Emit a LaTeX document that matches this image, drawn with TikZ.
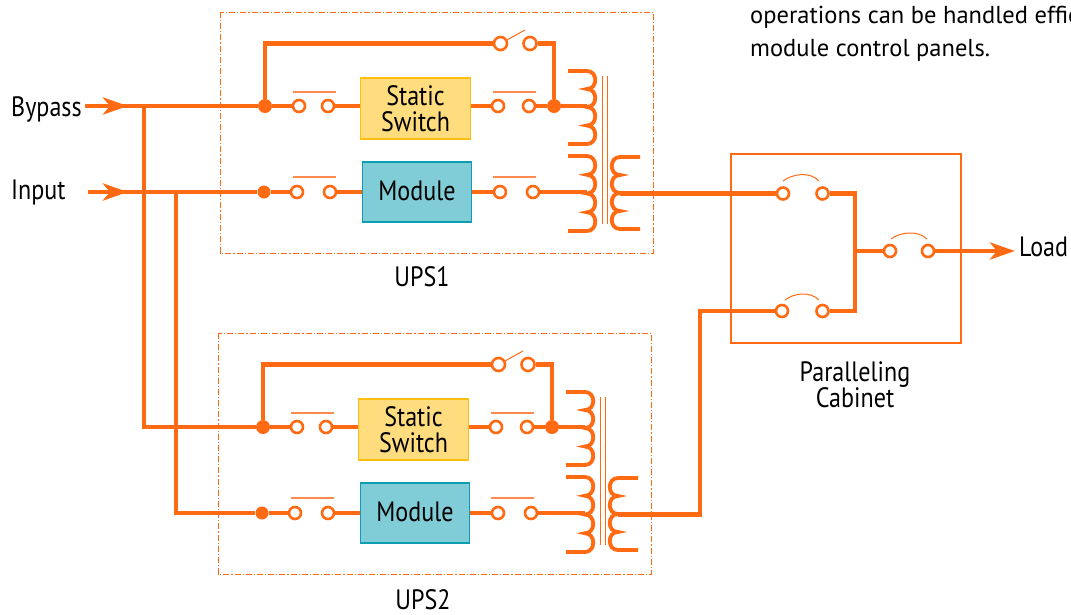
\documentclass[tikz,border=0pt]{standalone}
\usepackage{fontspec}
\setmainfont{PT Sans}
\newfontfamily\condfont[FakeStretch=0.86]{PT Sans}
\usetikzlibrary{arrows.meta}
\definecolor{wire}{HTML}{FF6A13}
\definecolor{thinwire}{HTML}{FF8A4D}
\definecolor{ssfill}{HTML}{FFDD7F}
\definecolor{ssline}{HTML}{FFBF10}
\definecolor{mfill}{HTML}{80CDD8}
\definecolor{mline}{HTML}{0E9DB0}
\tikzset{
  x=1pt,y=-1pt,
  wireline/.style={draw=wire,line width=4.6pt},
  wirethin/.style={draw=wire,line width=3.6pt},
  coil/.style={draw=wire,line width=3.8pt},
  bar/.style={draw=thinwire,line width=1.1pt},
  core/.style={draw=wire,line width=1pt},
  term/.style={circle,draw=wire,fill=white,line width=2.6pt,inner sep=0pt,minimum size=12pt},
  junct/.style={circle,fill=wire,inner sep=0pt,minimum size=14pt},
  swbox/.style={draw=#1,line width=1.8pt,inner sep=0pt,align=center},
  lab/.style={font=\condfont\fontsize{28}{26}\selectfont,inner sep=0pt},
  para/.style={font=\fontsize{24.5}{26}\selectfont,inner sep=0pt,anchor=west},
  zone/.style={draw=wire,line width=.8pt,dash pattern=on 6pt off 2pt on 1.2pt off 2pt},
  cab/.style={draw=wire,line width=1.1pt},
  headarrow/.style={wireline,-{Stealth[length=25pt,width=17pt,inset=7pt]}},
}
\newcommand{\oneups}[3]{%
\begin{scope}[shift={(#2,#3)},name prefix=#1-]
  \draw[zone] (220,12) rectangle (653,253);
  \node[junct] (jb) at (265,106) {};
  \node[junct] (jo) at (554,106) {};
  \node[junct,minimum size=13pt] (ji) at (264,192) {};
  \node[term,minimum size=13pt] (t1) at (500.5,43.5) {};
  \node[term,minimum size=13pt] (t2) at (530,43.5) {};
  \node[term] (a1) at (299,106) {};
  \node[term] (a2) at (328,106) {};
  \node[term] (a3) at (498,106) {};
  \node[term] (a4) at (529,106) {};
  \node[term] (b1) at (297,192) {};
  \node[term] (b2) at (330,192) {};
  \node[term] (b3) at (500,192) {};
  \node[term] (b4) at (533,192) {};
  \node[swbox=ssline,fill=ssfill,minimum height=61pt,text width=110pt,lab] (ss) at (415.5,108.5) {Static\\Switch};
  \node[swbox=mline,fill=mfill,minimum height=60pt,text width=109pt,lab] (mod) at (417,192) {\raisebox{2pt}{Module}};
  \coordinate (c1) at (587,106);
  \coordinate (c2) at (587,192);
  \coordinate (top1) at (265,43.5);
  \coordinate (top2) at (554,43.5);
  \coordinate (armend) at (525,30);
  \coordinate (sec) at (620,193.5);
  \draw[wireline,line join=miter] (jb) -- (top1) -- (t1);
  \draw[wireline,line join=miter] (t2) -- (top2) -- (jo);
  \draw[core] (t1) -- (armend);
  \draw[wireline] (jb) -- (a1);
  \draw[wireline] (a2) -- (ss.west |- a2);
  \draw[wireline] (ss.east |- a3) -- (a3);
  \draw[wireline] (a4) -- (jo);
  \draw[wireline] (jo) -- (c1);
  \draw[wirethin] (ji) -- (b1);
  \draw[wirethin] (b2) -- (mod);
  \draw[wirethin] (mod) -- (b3);
  \draw[wirethin] (b4) -- (c2);
  \draw[bar] (293,92) -- (336,92);
  \draw[bar] (493,92) -- (536,92);
  \draw[bar] (293,177) -- (336,177);
  \draw[bar] (493,177) -- (536,177);
  \draw[coil] (568,71) -- (587,71)
    .. controls +(11,0) and +(11,0) .. ++(0,18)
    .. controls +(11,0) and +(11,0) .. ++(0,18)
    .. controls +(11,0) and +(11,0) .. ++(0,18.5)
    .. controls +(11,0) and +(11,0) .. ++(0,18.5) -- (568,144);
  \draw[coil] (568,156) -- (587,156)
    .. controls +(11,0) and +(11,0) .. ++(0,18.75)
    .. controls +(11,0) and +(11,0) .. ++(0,18.75)
    .. controls +(11,0) and +(11,0) .. ++(0,18.75)
    .. controls +(11,0) and +(11,0) .. ++(0,18.75) -- (568,231);
  \draw[coil] (640,157) -- (620,157)
    .. controls +(-11,0) and +(-11,0) .. ++(0,18)
    .. controls +(-11,0) and +(-11,0) .. ++(0,18)
    .. controls +(-11,0) and +(-11,0) .. ++(0,18)
    .. controls +(-11,0) and +(-11,0) .. ++(0,18) -- (640,229);
  \draw[core] (602,76) -- (602,224);
  \draw[core] (607,76) -- (607,224);
\end{scope}}
\begin{document}
\begin{tikzpicture}
\useasboundingbox (0,0) rectangle (1071,614);
\fill[white] (0,0) rectangle (1071,614);

\oneups{u1}{0}{0}
\oneups{u2}{-2}{321}

\draw[cab] (731,154) rectangle (961,343);
\node[term] (p1) at (783,193.5) {};
\node[term] (p2) at (822.5,193.5) {};
\node[term] (q1) at (782,311) {};
\node[term] (q2) at (822.5,311) {};
\node[term] (r1) at (890,251) {};
\node[term] (r2) at (928,251) {};

\node[lab,anchor=base west] (bypass) at (11,116) {Bypass};
\node[lab,anchor=base west] (input) at (11,199) {Input};
\node[lab,anchor=base west] (load) at (1019,256) {Load};
\node[lab] (ups1) at (422,277) {UPS1};
\node[lab] (ups2) at (423,600) {UPS2};
\node[lab,align=center] (pc) at (855,385) {Paralleling\\Cabinet};
\node[para] (p) at (750,17) {operations can be handled effic};
\node[para] (m) at (750,50) {module control panels.};

\coordinate (bstart) at (85,106);
\coordinate (btip) at (128,106);
\coordinate (istart) at (88,192);
\coordinate (itip) at (128,192);
\coordinate (busa) at (144,106);
\coordinate (busb) at (176,192);
\draw[wireline] (bstart) -- (u1-jb);
\draw[wireline] (istart) -- (u1-ji);
\draw[headarrow] (bstart) -- (btip);
\draw[headarrow] (istart) -- (itip);
\draw[wireline,line join=miter] (busa) |- (u2-jb);
\draw[wireline,line join=miter] (busb) |- (u2-ji);

\coordinate (fork) at (855,193.5);
\coordinate (forkb) at (855,311);
\coordinate (forkm) at (855,251);
\coordinate (tiptop) at (1015,251);
\coordinate (elbow2) at (700,311);
\draw[wireline] (u1-sec) -- (p1);
\draw[wireline,line join=miter] (u2-sec) -| (elbow2) -- (q1);
\draw[wireline,line join=miter] (p2) -- (fork) -- (forkb) -- (q2);
\draw[wireline] (forkm) -- (r1);
\draw[headarrow] (r2) -- (tiptop);
\draw[core] (783,181) .. controls (792,174) and (810,171) .. (819,181);
\draw[core] (785,300) .. controls (794,293) and (810,291) .. (819,300);
\draw[core] (891,239) .. controls (900,232) and (918,230) .. (927,239);
\end{tikzpicture}
\end{document}
